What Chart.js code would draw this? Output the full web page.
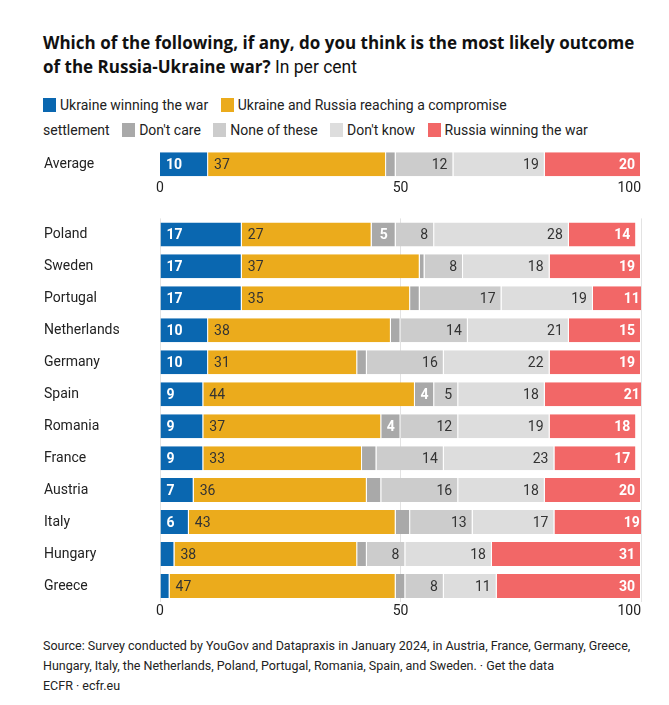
<!DOCTYPE html>
<html>
<head>
<meta charset="utf-8">
<script src="https://cdn.jsdelivr.net/npm/chart.js@4.4.1/dist/chart.umd.min.js"></script>
<style>
  html, body { margin:0; padding:0; background:#fff; }
  body { width:669px; height:705px; position:relative; font-family: Roboto, "Noto Sans", sans-serif; color:#222; overflow:hidden; }
  #title { position:absolute; left:43px; top:31px; width:640px; font-family:"Open Sans", Roboto, sans-serif; font-size:17px; line-height:24px; color:#111; white-space:nowrap; }
  #title b { font-weight:700; }
  #title span { font-family: Roboto, sans-serif; font-weight:400; font-size:17.5px; }
  #legend { position:absolute; left:43px; top:93px; width:640px; font-size:14px; line-height:25px; color:#222; white-space:nowrap; }
  .sw { display:inline-block; width:13px; height:14px; vertical-align:-2px; margin-right:4px; }
  .item { margin-right:9px; }
  #c1 { position:absolute; left:0; top:140px; }
  #c2 { position:absolute; left:0; top:210px; }
  #footer { position:absolute; left:43px; top:636px; width:620px; font-size:12.5px; line-height:20px; color:#222; }
</style>
</head>
<body>
<div id="title"><b>Which of the following, if any, do you think is the most likely outcome<br>of the Russia-Ukraine war?</b> <span>In per cent</span></div>
<div id="legend"></div>
<canvas id="c1" width="669" height="60"></canvas>
<canvas id="c2" width="669" height="416"></canvas>
<div id="footer">Source: Survey conducted by YouGov and Datapraxis in January 2024, in Austria, France, Germany, Greece, Hungary, Italy, the Netherlands, Poland, Portugal, Romania, Spain, and Sweden. · Get the data<br>ECFR · ecfr.eu</div>
<script>
// ---- data ----
const seriesNames = ['Ukraine winning the war', 'Ukraine and Russia reaching a compromise settlement', "Don't care", 'None of these', "Don't know", 'Russia winning the war'];
const averageLabel = ['Average'];
const avgUkraineWin = [10];
const avgCompromise = [37];
const avgDontCare = [2];
const avgNoneOfThese = [12];
const avgDontKnow = [19];
const avgRussiaWin = [20];

const countries = ['Poland','Sweden','Portugal','Netherlands','Germany','Spain','Romania','France','Austria','Italy','Hungary','Greece'];
const ukraineWin  = [17,17,17,10,10, 9, 9, 9, 7, 6, 3, 2];
const compromise  = [27,37,35,38,31,44,37,33,36,43,38,47];
const dontCare    = [ 5, 1, 2, 2, 2, 4, 4, 3, 3, 3, 2, 2];
const noneOfThese = [ 8, 8,17,14,16, 5,12,14,16,13, 8, 8];
const dontKnow    = [28,18,19,21,22,18,19,23,18,17,18,11];
const russiaWin   = [14,19,11,15,19,21,18,17,20,19,31,30];
const axisTicks = [0, 50, 100];

// ---- styles ----
const colors = ['#0a67b0', '#ebab1c', '#a9a9a9', '#cccccc', '#dddddd', '#f26767'];
const labelStyle = [
  {color:'#fff', bold:true, align:'start'},
  {color:'#333', bold:false, align:'start'},
  {color:'#fff', bold:true, align:'center'},
  {color:'#333', bold:false, align:'end'},
  {color:'#333', bold:false, align:'end'},
  {color:'#fff', bold:true, align:'end'}
];
const FONT = 'Roboto, "Noto Sans", sans-serif';

// legend (line break after "compromise" as in the original)
const lg = document.getElementById('legend');
lg.innerHTML = seriesNames.map((n,i)=>{
  const txt = n.replace('compromise settlement', 'compromise<br>settlement');
  return '<span class="item"><span class="sw" style="background:'+colors[i]+'"></span>'+txt+'</span>';
}).join(' ');

function makeDatasets(arrs){
  return arrs.map((d,i)=>({
    label: seriesNames[i], data: d, backgroundColor: colors[i],
    borderColor:'#fff', borderWidth:{top:0,left:0,bottom:0,right:1}, borderSkipped:false,
    barThickness:24, inflateAmount:0
  }));
}

const valueLabels = {
  id:'valueLabels',
  afterDatasetsDraw(chart){
    const ctx = chart.ctx;
    chart.data.datasets.forEach((ds,i)=>{
      const meta = chart.getDatasetMeta(i);
      const st = labelStyle[i];
      meta.data.forEach((el,j)=>{
        const v = ds.data[j];
        if (v < 4) return;
        const left = Math.min(el.base, el.x), right = Math.max(el.base, el.x);
        ctx.save();
        ctx.font = (st.bold ? '700 ' : '400 ') + '14px ' + FONT;
        ctx.fillStyle = st.color;
        ctx.textBaseline = 'middle';
        let x;
        if (st.align === 'start') { ctx.textAlign='left'; x = left + 6; }
        else if (st.align === 'end') { ctx.textAlign='right'; x = right - 6; }
        else { ctx.textAlign='center'; x = (left+right)/2; }
        ctx.fillText(String(v), x, el.y + 1);
        ctx.restore();
      });
    });
  }
};

function tickLabels(offset){
  return {
    id:'tickLabels',
    afterDraw(chart){
      const ctx = chart.ctx, xs = chart.scales.x;
      const y = chart.chartArea.bottom + offset;
      ctx.save();
      ctx.font = '400 14px ' + FONT;
      ctx.fillStyle = '#222';
      ctx.textBaseline = 'middle';
      axisTicks.forEach((t,k)=>{
        const px = xs.getPixelForValue(t);
        ctx.textAlign = (k === axisTicks.length-1) ? 'right' : 'center';
        ctx.fillText(String(t), px, y);
      });
      ctx.restore();
    }
  };
}

function options(showGrid){
  return {
    responsive:false, animation:false, indexAxis:'y',
    layout:{padding:{left:44, right:28, top: 0, bottom: showGrid ? 24 : 20}},
    plugins:{legend:{display:false}, tooltip:{enabled:false}},
    scales:{
      x:{ stacked:true, min:0, max:100, display: showGrid,
          ticks:{display:false, stepSize:50}, border:{display:false},
          grid:{display:true, color:'#e3e3e3', drawTicks:false, lineWidth:1},
          afterFit(s){ s.height = 0; } },
      y:{ stacked:true, border:{display:false}, grid:{display:false},
          ticks:{crossAlign:'far', color:'#222', font:{family:FONT, size:14}, padding:0},
          afterFit(s){ s.width = 116; } }
    }
  };
}

new Chart(document.getElementById('c1'), {
  type:'bar',
  data:{ labels: averageLabel, datasets: makeDatasets([avgUkraineWin, avgCompromise, avgDontCare, avgNoneOfThese, avgDontKnow, avgRussiaWin]) },
  options: options(false),
  plugins:[valueLabels, tickLabels(8)]
});

new Chart(document.getElementById('c2'), {
  type:'bar',
  data:{ labels: countries, datasets: makeDatasets([ukraineWin, compromise, dontCare, noneOfThese, dontKnow, russiaWin]) },
  options: options(true),
  plugins:[valueLabels, tickLabels(9)]
});
</script>
</body>
</html>
